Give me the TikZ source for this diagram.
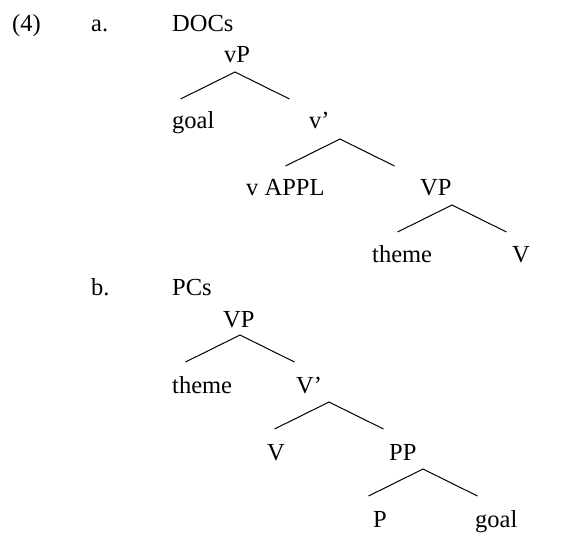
\documentclass[tikz,border=0pt]{standalone}
\usepackage{fontspec}
\setmainfont{Liberation Serif}
\usetikzlibrary{positioning,calc}
\newcommand{\fork}[2]{\coordinate (#1) at (#2);
\coordinate (#1-l) at ($(#1)+(-54.5,27)$);
\coordinate (#1-r) at ($(#1)+(54.5,27)$);
\draw[edge] (#1-l) -- (#1) -- (#1-r);}

\begin{document}
\begin{tikzpicture}
[x=1pt,y=-1pt,
edge/.style={black,line width=1pt},
word/.style={inner sep=0pt,anchor=base west,font=\fontsize{24.5}{29}\selectfont}]
\useasboundingbox (0,0) rectangle (577,532);
%%
\node[word] (ex) at (12,32) {(4)};
\node[word] (a) at (91,32) {a.};
\node[word] (docs) at (172,32) {DOCs};
%%
\node[word] (vP) at (224,63) {vP};
\fork{vP-top}{235,72}
\node[word] (goalA) at (172,128) {goal};
\node[word] (vbar) at (309,128) {v’};
\fork{vbar-top}{340,139}
\node[word] (vappl) at (246,195) {v APPL};
\node[word] (VPa) at (420,195) {VP};
\fork{VPa-top}{452,205}
\node[word] (themeA) at (372,262) {theme};
\node[word] (Va) at (512,262) {V};
%%
\node[word] (b) at (91,295) {b.};
\node[word] (pcs) at (172,295) {PCs};
%%
\node[word] (VPb) at (223,327) {VP};
\fork{VPb-top}{240,335}
\node[word] (themeB) at (172,393) {theme};
\node[word] (Vbar) at (296,393) {V’};
\fork{Vbar-top}{329,402}
\node[word] (Vb) at (267,460) {V};
\node[word] (PP) at (389,460) {PP};
\fork{PP-top}{423,469}
\node[word] (P) at (373,527) {P};
\node[word] (goalB) at (475,527) {goal};
\end{tikzpicture}
\end{document}
